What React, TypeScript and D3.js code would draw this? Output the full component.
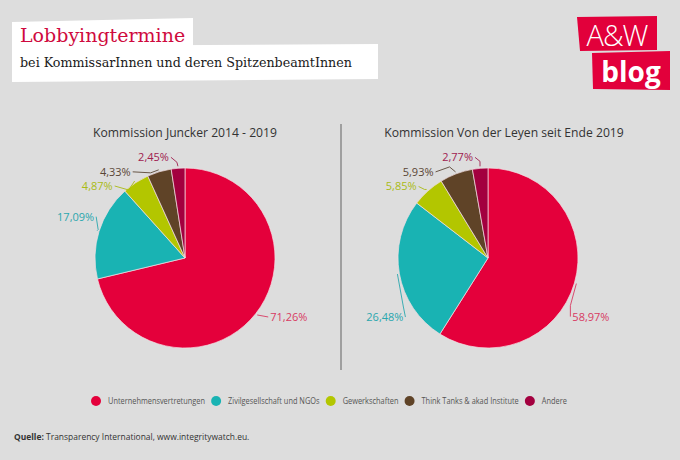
import React from "react";
import * as d3 from "d3";

const categories = [
  "Unternehmensvertretungen",
  "Zivilgesellschaft und NGOs",
  "Gewerkschaften",
  "Think Tanks & akad Institute",
  "Andere",
];
const colors = ["#e4003b", "#19b3b3", "#b3c600", "#5f4327", "#a3003f"];
const labelColors = ["#d83a62", "#2aa7ae", "#a9bb14", "#5a4635", "#a0204f"];
const juncker = [71.26, 17.09, 4.87, 4.33, 2.45];
const vonDerLeyen = [58.97, 26.48, 5.85, 5.93, 2.77];
const chartTitles = ["Kommission Juncker 2014 - 2019", "Kommission Von der Leyen seit Ende 2019"];

const W = 680;
const H = 460;
const R = 90;

type LabelCfg = { dx: number; dy: number; anchor: "start" | "end"; mid?: [number, number][] };

// label placement offsets relative to the arc edge point (layout only)
const leftLabels: LabelCfg[] = [
  { dx: 13, dy: 6, anchor: "start" },
  { dx: -3, dy: -10, anchor: "end", mid: [[1, -1]] },
  { dx: -22, dy: 9, anchor: "end", mid: [[-6, 9]] },
  { dx: -28, dy: 6, anchor: "end", mid: [[-8, 3]] },
  { dx: -9, dy: -5, anchor: "end", mid: [[-1, -4]] },
];
const rightLabels: LabelCfg[] = [
  { dx: -4, dy: 37, anchor: "start", mid: [[-6, 22]] },
  { dx: 6, dy: 47, anchor: "end", mid: [[6, 33]] },
  { dx: -10, dy: 1, anchor: "end", mid: [[-2, 0]] },
  { dx: -22, dy: 4, anchor: "end", mid: [[-6, -5]] },
  { dx: -7, dy: -5, anchor: "end", mid: [[0, -5]] },
];

const fmt = (v: number) => v.toFixed(2).replace(".", ",") + "%";

const LEG_SCALE = 0.87;

function measure(text: string, font: string) {
  const c = document.createElement("canvas").getContext("2d");
  if (!c) return text.length * 4;
  c.font = font;
  return c.measureText(text).width;
}

function Pie({ cx, cy, values, labels, title }: { cx: number; cy: number; values: number[]; labels: LabelCfg[]; title: string }) {
  const pie = d3.pie<number>().sort(null).value((d) => d);
  const arcs = pie(values);
  const arc = d3.arc<d3.PieArcDatum<number>>().innerRadius(0).outerRadius(R);
  const tcx = cx + (title.length > 32 ? 16 : 0);
  return (
    <g>
      <text
        transform={`translate(${tcx},137) scale(0.9,1)`}
        textAnchor="middle"
        fontFamily="Open Sans"
        fontSize={13.5}
        fill="#333"
      >
        {title}
      </text>
      <g transform={`translate(${cx},${cy})`}>
        {arcs.map((a, i) => (
          <path key={i} d={arc(a) || ""} fill={colors[i]} stroke="#f4dfe4" strokeWidth={0.7} />
        ))}
      </g>
      {arcs.map((a, i) => {
        const m = (a.startAngle + a.endAngle) / 2;
        const px = cx + (R + 2) * Math.sin(m);
        const py = cy - (R + 2) * Math.cos(m);
        const cfg = labels[i];
        const tx = px + cfg.dx;
        const ty = py + cfg.dy;
        const sx = cfg.anchor === "end" ? tx + 2 : tx - 2;
        const sy = ty - 4;
        const pts: [number, number][] = [[sx, sy]];
        (cfg.mid || []).forEach(([mx, my]) => pts.push([px + mx, py + my]));
        pts.push([px, py]);
        return (
          <g key={i}>
            <path d={d3.line()(pts) || ""} fill="none" stroke={labelColors[i]} strokeWidth={0.9} />
            <text x={tx} y={ty} textAnchor={cfg.anchor} fontFamily="Open Sans" fontSize={11} fill={labelColors[i]}>
              {fmt(values[i])}
            </text>
          </g>
        );
      })}
    </g>
  );
}

export default function App() {
  const legendFont = "8.5px 'Open Sans'";
  let lx = 96;
  const legendItems = categories.map((c, i) => {
    const x = lx;
    const w = measure(c, legendFont) * LEG_SCALE;
    lx = x + 12 + w + 11;
    return { c, x, i };
  });
  return (
    <svg width={W} height={H} style={{ position: "absolute", left: 0, top: 0 }}>
      <rect width={W} height={H} fill="#dddddd" />
      {/* header */}
      <polygon points="12,22 193,18 193,46 12,47" fill="#ffffff" />
      <polygon points="12,46 378,44 378,79 12,82" fill="#ffffff" />
      <text x={20} y={42} fontFamily="DejaVu Serif" fontSize={19} fill="#cf0a3e">
        Lobbyingtermine
      </text>
      <text x={20} y={67} fontFamily="DejaVu Serif" fontSize={12.7} fill="#1a1a1a">
        bei KommissarInnen und deren SpitzenbeamtInnen
      </text>
      {/* logo */}
      <polygon points="577,17 657,16 657,50 580,51" fill="#e2003b" />
      <polygon points="592,53 670,51 670,90 593,89" fill="#e2003b" />
      <text x={617} y={46} textAnchor="middle" fontFamily="Open Sans" fontWeight={300} fontSize={29} fill="#ffffff" letterSpacing={-1}>
        A&amp;W
      </text>
      <text x={631} y={82} textAnchor="middle" fontFamily="Open Sans" fontWeight={700} fontSize={28} fill="#ffffff">
        blog
      </text>
      {/* divider */}
      <line x1={341} x2={341} y1={124} y2={370} stroke="#8a8a8a" strokeWidth={1.5} />
      <Pie cx={185} cy={258} values={juncker} labels={leftLabels} title={chartTitles[0]} />
      <Pie cx={488} cy={258} values={vonDerLeyen} labels={rightLabels} title={chartTitles[1]} />
      {/* legend */}
      {legendItems.map(({ c, x, i }) => (
        <g key={c}>
          <circle cx={x} cy={401} r={5} fill={colors[i]} />
          <text transform={`translate(${x + 12},404) scale(${LEG_SCALE},1)`} fontFamily="Open Sans" fontSize={8.5} fill="#555">
            {c}
          </text>
        </g>
      ))}
      <text transform="translate(14,440) scale(0.92,1)" fontFamily="Open Sans" fontSize={9.2} fill="#333">
        <tspan fontWeight={700}>Quelle:</tspan> Transparency International, www.integritywatch.eu.
      </text>
    </svg>
  );
}
